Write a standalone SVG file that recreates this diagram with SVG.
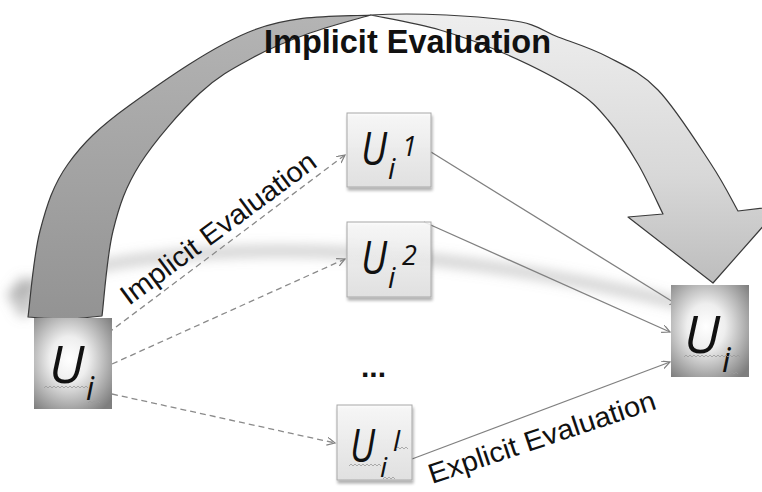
<svg xmlns="http://www.w3.org/2000/svg" width="762" height="492" viewBox="0 0 762 492">
<defs>
<style>
.ital{font-family:"Open Sans","Liberation Sans",sans-serif;font-style:italic;fill:#111}
.lbl{font-family:"Liberation Sans",Arial,sans-serif;fill:#111}
.dash{fill:none;stroke:#8a8a8a;stroke-width:1.3;stroke-dasharray:6 4}
.solid{fill:none;stroke:#808080;stroke-width:1.3}
.box{stroke:#a8a8a8;stroke-width:1;fill:url(#boxg)}
.wavy{fill:none;stroke:#9a9a9a;stroke-width:0.8}
</style>
<linearGradient id="boxg" x1="0" y1="0" x2="0" y2="1">
<stop offset="0" stop-color="#fbfbfb" stop-opacity="0.85"/>
<stop offset="1" stop-color="#e2e2e2" stop-opacity="0.85"/>
</linearGradient>
<radialGradient id="ug" cx="0.45" cy="0.45" r="0.7">
<stop offset="0" stop-color="#ffffff"/>
<stop offset="0.35" stop-color="#eeeeee"/>
<stop offset="1" stop-color="#7e7e7e"/>
</radialGradient>
<linearGradient id="darkband" x1="0" y1="0" x2="0" y2="1">
<stop offset="0" stop-color="#b4b4b4"/>
<stop offset="1" stop-color="#939393"/>
</linearGradient>
<linearGradient id="lightband" x1="0" y1="0" x2="0" y2="1">
<stop offset="0" stop-color="#eeeeee"/>
<stop offset="0.6" stop-color="#d8d8d8"/>
<stop offset="1" stop-color="#bdbdbd"/>
</linearGradient>
<filter id="blur" x="-20%" y="-80%" width="140%" height="260%"><feGaussianBlur stdDeviation="6"/></filter>
<filter id="shadow" x="-20%" y="-20%" width="150%" height="150%">
<feGaussianBlur in="SourceAlpha" stdDeviation="1.5"/>
<feOffset dx="1" dy="3" result="o"/>
<feComponentTransfer><feFuncA type="linear" slope="0.35"/></feComponentTransfer>
<feMerge><feMergeNode/><feMergeNode in="SourceGraphic"/></feMerge>
</filter>
<marker id="open" markerWidth="10" markerHeight="10" refX="8" refY="4" orient="auto" markerUnits="userSpaceOnUse">
<path d="M0,0 L8,4 L0,8" fill="none" stroke="#808080" stroke-width="1.2"/>
</marker>
</defs>
<rect width="762" height="492" fill="#ffffff"/>

<g id="shadow-band" filter="url(#blur)">
<path d="M8,298 C60,262 200,247 330,252 C450,257 570,276 690,306" fill="none" stroke="#8a8a8a" stroke-width="11" stroke-opacity="0.4"/>
<ellipse cx="24" cy="297" rx="12" ry="20" fill="#8a8a8a" fill-opacity="0.45"/>
</g>

<g id="big-arrow" stroke="#3a3a3a" stroke-width="1.2" stroke-linejoin="round">
<path fill="url(#darkband)" d="M28,317 C30,302.7 33.3,256.5 40,231 C46.7,205.5 53,185 68,164 C83,143 99,127.3 130,105 C161,82.7 213.8,45 254,30 C294.2,15 328.7,16.7 371,15 C360.8,18 329.5,26 310,33 C290.5,40 272.3,47 254,57 C235.7,67 219,75.2 200,93 C181,110.8 154.5,141 140,164 C125.5,187 119.3,205.5 113,231 C106.7,256.5 103.8,302.7 102,316 Q65,321 28,317 Z"/>
<path fill="url(#lightband)" d="M371,15 C420,12 476.8,16.3 508,20 C539.2,23.7 541.3,30.8 558,37 C574.7,43.2 591.3,48.2 608,57 C624.7,65.8 640.8,72.2 658,90 C675.2,107.8 697.7,143.8 711,164 C724.3,184.2 733.5,203.2 738,211 L781,206 L713,283 L628,217 L663,214 C658.8,205.7 647.2,179.7 638,164 C628.8,148.3 618.5,132.3 608,120 C597.5,107.7 591.7,100.8 575,90 C558.3,79.2 530.5,65 508,55 C485.5,45 462.8,36.7 440,30 C417.2,23.3 382.5,17.5 371,15 Z"/>
</g>
<text class="lbl" x="264" y="53" font-size="33" font-weight="bold" textLength="287" lengthAdjust="spacingAndGlyphs">Implicit Evaluation</text>

<g id="connectors">
<line class="dash" x1="100" y1="339" x2="345" y2="155" marker-end="url(#open)"/>
<line class="dash" x1="112" y1="364" x2="345" y2="259" marker-end="url(#open)"/>
<line class="dash" x1="112" y1="394" x2="335" y2="443" marker-end="url(#open)"/>
<line class="solid" x1="431" y1="152" x2="678" y2="305" marker-end="url(#open)"/>
<line class="solid" x1="424" y1="222" x2="670" y2="332" marker-end="url(#open)"/>
<line class="solid" x1="412" y1="459" x2="670" y2="362" marker-end="url(#open)"/>
<text class="lbl" font-size="28" transform="translate(129,306) rotate(-36.5)" textLength="236" lengthAdjust="spacingAndGlyphs">Implicit Evaluation</text>
<text class="lbl" font-size="28" transform="translate(432,484) rotate(-18.5)" textLength="238" lengthAdjust="spacingAndGlyphs">Explicit Evaluation</text>
</g>

<g id="node-ui-left">
<rect x="34" y="318" width="78" height="91" fill="url(#ug)"/>
<text class="ital"><tspan x="49" y="383" font-size="52">U</tspan><tspan x="86" y="400" font-size="32">i</tspan></text>
<path class="wavy" d="M44,388 l2,-2 l2,2 l2,-2 l2,2 l2,-2 l2,2 l2,-2 l2,2 l2,-2 l2,2 l2,-2 l2,2 l2,-2 l2,2 l2,-2 l2,2 l2,-2 l2,2 l2,-2 l2,2 l2,-2 l2,2 M88,403 l2,-2 l2,2 l2,-2 l2,2 l2,-2 l2,2"/>
</g>

<g id="node-ui-right">
<rect x="671" y="285" width="78" height="92" fill="url(#ug)"/>
<text class="ital"><tspan x="684" y="353" font-size="52" textLength="36" lengthAdjust="spacingAndGlyphs">U</tspan><tspan x="722" y="372" font-size="34">i</tspan></text>
<path class="wavy" d="M684,357 l2,-2 l2,2 l2,-2 l2,2 l2,-2 l2,2 l2,-2 l2,2 l2,-2 l2,2 l2,-2 l2,2 l2,-2 l2,2 l2,-2 l2,2 l2,-2 l2,2 l2,-2 l2,2 l2,-2 l2,2 l2,-2 l2,2 l2,-2 l2,2 l2,-2 l2,2 M726,374 l2,-2 l2,2 l2,-2 l2,2 l2,-2 l2,2"/>
</g>

<g id="node-ui1">
<rect class="box" x="347" y="113" width="84" height="74" filter="url(#shadow)"/>
<text class="ital"><tspan x="361" y="165" font-size="46" textLength="26" lengthAdjust="spacingAndGlyphs">U</tspan><tspan x="388" y="179" font-size="29">i</tspan><tspan x="402" y="156" font-size="27">1</tspan></text>
</g>

<g id="node-ui2">
<rect class="box" x="347" y="222" width="84" height="75" filter="url(#shadow)"/>
<text class="ital"><tspan x="361" y="274" font-size="46" textLength="26" lengthAdjust="spacingAndGlyphs">U</tspan><tspan x="388" y="288" font-size="29">i</tspan><tspan x="402" y="265" font-size="27">2</tspan></text>
</g>

<g id="ellipsis">
<text class="lbl" x="361" y="377" font-size="30" font-weight="bold">...</text>
</g>

<g id="node-uil">
<rect class="box" x="337" y="405" width="75" height="75" filter="url(#shadow)"/>
<text class="ital"><tspan x="350" y="462" font-size="46" textLength="25" lengthAdjust="spacingAndGlyphs">U</tspan><tspan x="380" y="477" font-size="28">i</tspan><tspan x="393" y="451" font-size="28">l</tspan></text>
<path class="wavy" d="M349,466 l2,-2 l2,2 l2,-2 l2,2 l2,-2 l2,2 l2,-2 l2,2 l2,-2 l2,2 l2,-2 l2,2 l2,-2 l2,2 l2,-2 l2,2 M396,449 l2,-2 l2,2 l2,-2 l2,2 l2,-2 l2,2 M383,479 l2,-2 l2,2 l2,-2 l2,2 l2,-2 l2,2"/>
</g>
</svg>
